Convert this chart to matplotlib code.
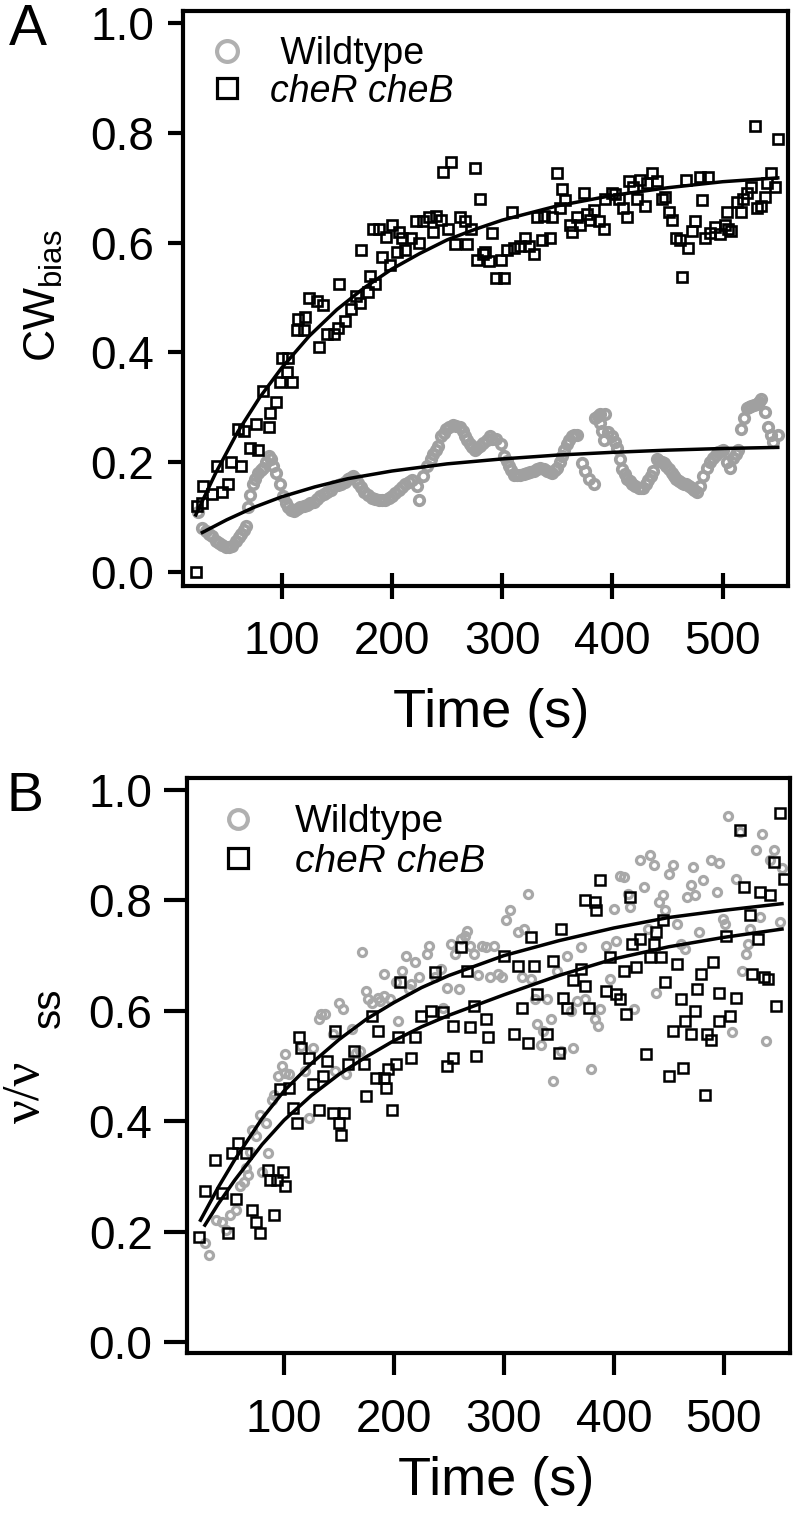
import numpy as np
import matplotlib.pyplot as plt
from matplotlib.lines import Line2D

plt.rcParams['font.family'] = ['Liberation Sans', 'DejaVu Sans']
plt.rcParams['mathtext.fontset'] = 'custom'
plt.rcParams['mathtext.rm'] = 'Liberation Sans'
plt.rcParams['mathtext.it'] = 'Liberation Sans:italic'

# ---------------- panel A : CW bias ----------------
# cheR cheB (squares)
a_mut_t = [22, 23, 28, 29, 37, 41.5, 46, 51, 54, 60, 63, 66, 71, 77, 78.5, 83, 88, 89, 95,
           98.5, 100, 104.6, 106, 109, 114, 115, 120, 121.5, 124.6, 132, 134, 137, 141.5,
           147.7, 151, 152, 157, 163, 167.7, 171, 172, 178.5, 180, 183, 184.6, 188, 191,
           195, 198.5, 200, 204.6, 206, 209, 212, 217, 221.5, 224.6, 227.7, 234, 237, 240,
           244.6, 246, 250.8, 254, 257, 261.5, 266, 267.7, 272, 275, 277, 280, 283, 284.6,
           287.7, 290.8, 294, 298.5, 301.5, 304.5, 309, 310.5, 316.6, 321, 324, 328.7,
           331.7, 336, 337.7, 343.7, 345, 349.8, 352.8, 354, 357, 361.8, 363, 368, 371,
           374, 377, 380, 383, 387.5, 392, 393.5, 399.5, 402.5, 405.6, 410, 413, 414.6,
           419, 422, 425, 429.7, 431, 435.7, 440, 444.8, 447.8, 451, 454, 458, 461.4, 463,
           467, 469, 472, 475, 479.5, 481, 484, 487, 488.5, 493, 497.6, 502, 503.6, 505,
           508, 512.7, 517, 518.7, 521.7, 526, 529, 530.8, 535, 538, 540, 544, 547.4, 550]
a_mut_cw = [0.0, 0.12, 0.125, 0.156, 0.142, 0.194, 0.146, 0.16, 0.2, 0.26, 0.194, 0.257,
            0.226, 0.27, 0.222, 0.33, 0.264, 0.29, 0.31, 0.347, 0.389, 0.365, 0.389, 0.347,
            0.44, 0.46, 0.44, 0.465, 0.5, 0.493, 0.41, 0.486, 0.434, 0.434, 0.444, 0.524,
            0.458, 0.479, 0.503, 0.49, 0.587, 0.51, 0.54, 0.625, 0.524, 0.625, 0.573, 0.611,
            0.559, 0.632, 0.583, 0.62, 0.608, 0.587, 0.608, 0.64, 0.6, 0.639, 0.646, 0.62,
            0.649, 0.642, 0.729, 0.625, 0.747, 0.597, 0.646, 0.639, 0.597, 0.625, 0.736,
            0.569, 0.68, 0.58, 0.583, 0.566, 0.618, 0.535, 0.569, 0.535, 0.587, 0.656, 0.59,
            0.594, 0.608, 0.594, 0.58, 0.646, 0.604, 0.649, 0.608, 0.646, 0.726, 0.663,
            0.698, 0.677, 0.632, 0.62, 0.646, 0.632, 0.691, 0.653, 0.642, 0.66, 0.639,
            0.625, 0.68, 0.691, 0.688, 0.68, 0.663, 0.646, 0.712, 0.701, 0.68, 0.715, 0.667,
            0.708, 0.726, 0.712, 0.68, 0.684, 0.656, 0.642, 0.608, 0.604, 0.538, 0.715,
            0.59, 0.622, 0.639, 0.719, 0.677, 0.608, 0.719, 0.618, 0.628, 0.615, 0.632,
            0.656, 0.625, 0.622, 0.674, 0.656, 0.68, 0.691, 0.701, 0.8125, 0.663, 0.667,
            0.684, 0.708, 0.726, 0.701, 0.788]

# wildtype (circles)
a_wt_t = [24, 28, 31, 34, 37, 40, 43, 46, 49, 52, 55, 58.5, 61, 63, 65.5, 67.7, 69, 71.5,
          74, 76, 78.5, 81, 83, 85.5, 88, 90, 92, 95, 98.5, 101.5, 104, 106, 108.5, 111,
          114, 117, 120, 123, 126, 129, 132, 135, 138, 141.5, 144.5, 147.7, 151, 154,
          157, 160, 162, 164.6, 167, 169, 172, 175, 178, 181.5, 185, 188, 191, 194, 197,
          200, 203, 206, 209, 212, 215, 218.5, 223, 224.6, 228, 232, 235, 237, 239.5,
          241.5, 244.6, 247, 249, 252, 255, 258, 261.5, 264, 266, 268.5, 271, 273, 275,
          277.5, 280, 283, 286, 289, 291, 294, 298.5, 301.5, 304, 306, 308, 310.5, 313.5,
          316.6, 319.5, 322.6, 325.5, 328.7, 331.5, 334.7, 337.5, 340.7, 343, 345, 347.5,
          349.8, 352, 354, 356.5, 359, 361, 363, 365.5, 368, 372, 375.4, 378.4, 383,
          384.5, 387, 389, 389, 390.5, 392, 393.5, 396, 399.5, 402.5, 404, 406.5, 408.6,
          411, 413, 415.5, 417.6, 420.5, 423.7, 426, 428, 430.5, 432.7, 435, 437, 440,
          442.5, 444.8, 447, 449, 451.5, 454, 456, 458, 460.5, 463, 465, 467, 469.5, 472,
          474, 476.5, 479.5, 482.5, 485.5, 488.5, 491.5, 494, 496, 498.5, 500.6, 503.6,
          506.6, 509.6, 512, 514, 517, 519.5, 521.7, 524, 526, 528.5, 530.8, 533, 535,
          538, 541, 543.5, 546, 550]
a_wt_cw = [0.11, 0.08, 0.075, 0.07, 0.065, 0.056, 0.052, 0.049, 0.046, 0.045, 0.048,
           0.056, 0.063, 0.07, 0.076, 0.083, 0.118, 0.14, 0.16, 0.17, 0.18, 0.186, 0.19,
           0.2, 0.212, 0.205, 0.194, 0.18, 0.16, 0.139, 0.126, 0.118, 0.113, 0.111, 0.114,
           0.118, 0.12, 0.122, 0.125, 0.128, 0.133, 0.139, 0.143, 0.146, 0.15, 0.156,
           0.158, 0.16, 0.164, 0.17, 0.172, 0.174, 0.17, 0.163, 0.155, 0.146, 0.14, 0.135,
           0.133, 0.132, 0.131, 0.132, 0.135, 0.139, 0.144, 0.149, 0.154, 0.16, 0.164,
           0.167, 0.156, 0.132, 0.175, 0.194, 0.205, 0.215, 0.222, 0.229, 0.247, 0.253,
           0.26, 0.264, 0.267, 0.266, 0.264, 0.256, 0.247, 0.24, 0.233, 0.228, 0.222,
           0.225, 0.229, 0.235, 0.24, 0.247, 0.243, 0.243, 0.233, 0.212, 0.203, 0.194,
           0.186, 0.177, 0.177, 0.177, 0.178, 0.18, 0.182, 0.184, 0.187, 0.19, 0.187,
           0.184, 0.182, 0.18, 0.185, 0.19, 0.2, 0.212, 0.222, 0.233, 0.24, 0.247, 0.249,
           0.25, 0.198, 0.184, 0.17, 0.16, 0.281, 0.285, 0.288, 0.271, 0.257, 0.24, 0.288,
           0.255, 0.247, 0.236, 0.226, 0.205, 0.188, 0.178, 0.17, 0.165, 0.16, 0.156,
           0.153, 0.153, 0.153, 0.16, 0.167, 0.175, 0.184, 0.205, 0.203, 0.201, 0.198,
           0.194, 0.187, 0.18, 0.175, 0.17, 0.166, 0.163, 0.161, 0.16, 0.156, 0.153, 0.15,
           0.146, 0.156, 0.174, 0.19, 0.201, 0.208, 0.214, 0.219, 0.221, 0.222, 0.201,
           0.19, 0.208, 0.215, 0.222, 0.26, 0.28, 0.299, 0.3, 0.302, 0.304, 0.306, 0.31,
           0.316, 0.292, 0.264, 0.25, 0.236, 0.25]

# fitted curves
a_fit_t = [22, 40, 60, 80, 100, 125, 150, 175, 200, 225, 250, 275, 300, 350, 400, 450,
           500, 550]
a_fit_mut = [0.104, 0.18, 0.255, 0.318, 0.372, 0.43, 0.478, 0.518, 0.552, 0.58, 0.605,
             0.624, 0.641, 0.667, 0.686, 0.700, 0.711, 0.718]
a_fit_wt_t = [28, 50, 75, 100, 130, 160, 200, 250, 300, 350, 400, 450, 500, 550]
a_fit_wt = [0.072, 0.095, 0.118, 0.137, 0.155, 0.170, 0.184, 0.197, 0.206, 0.213, 0.218,
            0.222, 0.225, 0.227]

# ---------------- panel B : v / v_ss ----------------
b_mut_t = [22.4, 27.8, 36.8, 43.9, 49.3, 52.9, 58.3, 56.5, 65.4, 70.8, 74.4, 78, 85.1,
           86.9, 90.5, 94, 99.5, 101.2, 95.9, 104.8, 108.4, 112, 113.8, 115.6, 122.7,
           126.3, 131.7, 135.3, 138.9, 146, 144.2, 149.6, 151.4, 155, 158.6, 163.9, 172.9,
           174.7, 180, 183.6, 185.4, 190.8, 192.6, 194.4, 198, 201.5, 203.3, 205.1, 215.9,
           219.4, 224.8, 233.8, 237.4, 244.5, 248.1, 253.5, 253.5, 260.7, 266, 269.6,
           273.2, 275, 283.9, 285.7, 300, 309, 312.6, 316.2, 321.5, 325.1, 327, 330.5,
           339.5, 344.8, 350.2, 352, 353.8, 357.4, 362.7, 369.9, 373.5, 373.5, 377.1,
           382.5, 384.2, 387.8, 393.2, 396.8, 402.1, 405.7, 409.3, 411.1, 414.7, 416.5,
           420.1, 423.7, 429, 432.6, 436.2, 438, 443.3, 445.1, 446.9, 450.5, 454.1, 457.7,
           461.3, 463.1, 464.8, 470.2, 473.8, 475.6, 479.2, 482.8, 484.5, 488.1, 489.9,
           495.3, 495.3, 502.5, 506.1, 511.4, 515, 518.6, 524, 525.8, 531.1, 532.9, 536.5,
           540.1, 541.9, 545.5, 547.3, 550.8, 554.4]
b_mut_v = [0.191, 0.273, 0.33, 0.27, 0.197, 0.342, 0.36, 0.26, 0.342, 0.24, 0.218, 0.197,
           0.312, 0.294, 0.23, 0.294, 0.309, 0.282, 0.458, 0.46, 0.424, 0.397, 0.552,
           0.533, 0.515, 0.467, 0.421, 0.482, 0.509, 0.564, 0.415, 0.397, 0.376, 0.415,
           0.503, 0.527, 0.503, 0.445, 0.591, 0.479, 0.564, 0.479, 0.461, 0.494, 0.421,
           0.503, 0.552, 0.652, 0.515, 0.552, 0.591, 0.6, 0.67, 0.597, 0.5, 0.515, 0.573,
           0.715, 0.673, 0.57, 0.609, 0.518, 0.585, 0.552, 0.7, 0.558, 0.682, 0.606, 0.542,
           0.733, 0.682, 0.63, 0.558, 0.691, 0.524, 0.748, 0.624, 0.606, 0.655, 0.676,
           0.645, 0.8, 0.606, 0.797, 0.782, 0.836, 0.636, 0.697, 0.63, 0.621, 0.673, 0.594,
           0.806, 0.721, 0.679, 0.73, 0.521, 0.697, 0.721, 0.742, 0.697, 0.764, 0.652,
           0.482, 0.564, 0.685, 0.621, 0.497, 0.582, 0.558, 0.6, 0.639, 0.667, 0.448,
           0.558, 0.548, 0.688, 0.633, 0.582, 0.736, 0.591, 0.624, 0.927, 0.824, 0.773,
           0.667, 0.73, 0.815, 0.661, 0.658, 0.809, 0.87, 0.609, 0.958, 0.839]

b_wt_t = [27.8, 31.4, 38.5, 43.9, 47.5, 51.1, 56.5, 60, 63.6, 65.4, 67.2, 69, 70.8, 74.4,
          78, 79.7, 83.3, 85.1, 88.7, 90.5, 94.1, 97.7, 101.2, 101.2, 104.8, 115.6, 119.2,
          122.7, 126.3, 131.7, 133.5, 137.1, 144.2, 146, 149.6, 153.2, 156.8, 162.1,
          165.7, 169.3, 171.1, 174.7, 176.5, 180, 185.4, 187.2, 190.8, 190.8, 196.2,
          201.5, 203.3, 206.9, 210.5, 214.1, 215.9, 219.4, 223, 230.2, 232, 237.4, 242.7,
          244.5, 248.1, 251.7, 255.3, 258.9, 260.7, 264.2, 266, 269.6, 273.2, 276.8,
          280.4, 284, 287.5, 291.1, 294.7, 298.3, 301.9, 305.4, 312.6, 318, 316.2, 321.5,
          325.1, 328.7, 330.5, 334.1, 335.9, 339.5, 343.1, 344.8, 348.4, 352, 357.4, 361,
          362.7, 366.3, 369.9, 373.5, 378.9, 382.5, 386, 387.8, 393.2, 396.8, 400.4,
          402.1, 405.7, 409.3, 412.9, 414.7, 418.3, 423.7, 427.2, 430.8, 432.6, 436.2,
          438, 441.5, 445.1, 446.9, 450.5, 454.1, 457.7, 461.3, 464.8, 466.6, 470.2, 472,
          473.8, 477.4, 481, 488.1, 493.5, 495.3, 498.9, 500.7, 504.3, 507.9, 511.4, 515,
          516.8, 520.4, 522.2, 524, 529.3, 532.9, 534.7, 538.3, 541.9, 545.5, 550.8, 552.6]
b_wt_v = [0.179, 0.158, 0.221, 0.218, 0.203, 0.23, 0.24, 0.282, 0.291, 0.315, 0.303,
          0.345, 0.385, 0.373, 0.412, 0.309, 0.397, 0.342, 0.439, 0.448, 0.482, 0.5, 0.488,
          0.521, 0.485, 0.536, 0.491, 0.406, 0.533, 0.585, 0.594, 0.594, 0.558, 0.491,
          0.615, 0.603, 0.485, 0.567, 0.524, 0.527, 0.706, 0.636, 0.621, 0.615, 0.624,
          0.618, 0.667, 0.627, 0.621, 0.652, 0.582, 0.673, 0.7, 0.639, 0.648, 0.688, 0.661,
          0.703, 0.718, 0.661, 0.676, 0.606, 0.642, 0.721, 0.703, 0.639, 0.73, 0.736,
          0.745, 0.718, 0.703, 0.664, 0.718, 0.715, 0.661, 0.718, 0.667, 0.661, 0.764,
          0.782, 0.742, 0.748, 0.661, 0.812, 0.658, 0.621, 0.576, 0.539, 0.564, 0.621,
          0.585, 0.473, 0.673, 0.527, 0.7, 0.6, 0.533, 0.618, 0.715, 0.621, 0.494, 0.585,
          0.573, 0.603, 0.718, 0.658, 0.785, 0.727, 0.845, 0.842, 0.812, 0.788, 0.603,
          0.873, 0.824, 0.748, 0.882, 0.864, 0.633, 0.797, 0.809, 0.782, 0.848, 0.864,
          0.758, 0.721, 0.712, 0.806, 0.827, 0.861, 0.809, 0.742, 0.836, 0.873, 0.815,
          0.867, 0.767, 0.758, 0.952, 0.561, 0.839, 0.924, 0.673, 0.703, 0.721, 0.748,
          0.891, 0.77, 0.921, 0.545, 0.873, 0.891, 0.761, 0.858]

b_fit_wt_t = [24, 40, 55, 80, 100, 125, 150, 175, 200, 225, 250, 300, 350, 400, 450, 500,
              553]
b_fit_wt = [0.221, 0.28, 0.33, 0.405, 0.455, 0.505, 0.548, 0.585, 0.615, 0.642, 0.664,
            0.700, 0.727, 0.750, 0.769, 0.782, 0.794]
b_fit_mut_t = [28, 40, 55, 80, 100, 125, 150, 175, 200, 225, 250, 300, 350, 400, 450, 500,
               553]
b_fit_mut = [0.212, 0.25, 0.293, 0.358, 0.402, 0.447, 0.485, 0.517, 0.546, 0.571, 0.592,
             0.629, 0.664, 0.694, 0.716, 0.733, 0.748]

xticks = [100, 200, 300, 400, 500]
yticks = [0.0, 0.2, 0.4, 0.6, 0.8, 1.0]

W, H = 797, 1513
fig = plt.figure(figsize=(W / 100, H / 100), dpi=100)

def px_axes(l, t, r, b):
    return fig.add_axes([l / W, 1 - b / H, (r - l) / W, (b - t) / H])

WT_A = '#a0a0a0'
WT_B = '#a8a8a8'

# ----- A -----
ax = px_axes(183.3, 11, 787.7, 586)
ax.plot(a_wt_t, a_wt_cw, 'o', ms=6.8, mfc='none', mec=WT_A, mew=2.7, zorder=2)
ax.plot(a_mut_t, a_mut_cw, 's', ms=7.0, mfc='none', mec='black', mew=1.9, zorder=3)
ax.plot(a_fit_t, a_fit_mut, '-', color='black', lw=2.5, zorder=4)
ax.plot(a_fit_wt_t, a_fit_wt, '-', color='black', lw=2.5, zorder=4)
ax.set_xlim(10.7, 559)
ax.set_ylim(-0.0255, 1.022)
ax.set_xticks(xticks)
ax.set_yticks(yticks)
ax.set_yticklabels(['%.1f' % v for v in yticks])
ax.tick_params(axis='x', direction='inout', length=18.5, width=3, pad=15, labelsize=33)
ax.tick_params(axis='y', direction='out', length=11, width=3, pad=10, labelsize=33)
for s in ax.spines.values():
    s.set_linewidth(3)
ax.set_xlabel('Time (s)', fontsize=39)
ax.xaxis.set_label_coords(0.51, -0.178)
ax.xaxis.label.set_va('top')

hA = [Line2D([], [], ls='none', marker='o', ms=15, mfc='none', mec='#b0b0b0', mew=3.0),
      Line2D([], [], ls='none', marker='s', ms=15, mfc='none', mec='black', mew=2.3)]
leg = ax.legend(hA, [' Wildtype', 'cheR cheB'], loc='upper left',
                bbox_to_anchor=(0.041, 0.957), frameon=False, fontsize=27,
                handlelength=1.0, handletextpad=0.65, labelspacing=0.05,
                borderpad=0, borderaxespad=0)
leg.get_texts()[1].set_style('italic')

fig.text(44 / W, 1 - 296 / H, r'CW$_{\mathrm{bias}}$', rotation=90, fontsize=32,
         ha='center', va='center')
fig.text(28 / W, 1 - 30 / H, 'A', fontsize=41, ha='center', va='center')

# ----- B -----
bx = px_axes(187.3, 778.3, 789.7, 1353.3)
bx.plot(b_wt_t, b_wt_v, 'o', ms=5.8, mfc='none', mec=WT_B, mew=2.3, zorder=2)
bx.plot(b_mut_t, b_mut_v, 's', ms=6.8, mfc='none', mec='black', mew=1.8, zorder=3)
bx.plot(b_fit_wt_t, b_fit_wt, '-', color='black', lw=2.5, zorder=4)
bx.plot(b_fit_mut_t, b_fit_mut, '-', color='black', lw=2.5, zorder=4)
bx.set_xlim(12, 560)
bx.set_ylim(-0.02, 1.021)
bx.set_xticks(xticks)
bx.set_yticks(yticks)
bx.set_yticklabels(['%.1f' % v for v in yticks])
bx.tick_params(axis='x', direction='out', length=16, width=3, pad=16, labelsize=33)
bx.tick_params(axis='y', direction='out', length=16.5, width=3, pad=8.5, labelsize=33)
for s in bx.spines.values():
    s.set_linewidth(3)
bx.set_xlabel('Time (s)', fontsize=39)
bx.xaxis.set_label_coords(0.5125, -0.1786)
bx.xaxis.label.set_va('top')

hB = [Line2D([], [], ls='none', marker='o', ms=13.5, mfc='none', mec='#b0b0b0', mew=3.0),
      Line2D([], [], ls='none', marker='s', ms=14.5, mfc='none', mec='black', mew=2.3)]
leg = bx.legend(hB, ['Wildtype', 'cheR cheB'], loc='upper left',
                bbox_to_anchor=(0.052, 0.955), frameon=False, fontsize=28,
                handlelength=1.0, handletextpad=0.97, labelspacing=0.1,
                borderpad=0, borderaxespad=0)
leg.get_texts()[1].set_style('italic')

fig.text(26 / W, 1 - 1092 / H, '\u03bd/\u03bd', rotation=90, fontsize=38,
         family=['Liberation Serif', 'DejaVu Serif'], ha='center', va='center')
fig.text(49 / W, 1 - 1008 / H, 'ss', rotation=90, fontsize=29, ha='center', va='center')
fig.text(25 / W, 1 - 797 / H, 'B', fontsize=40, ha='center', va='center')

fig.savefig('out.png', dpi=100)
